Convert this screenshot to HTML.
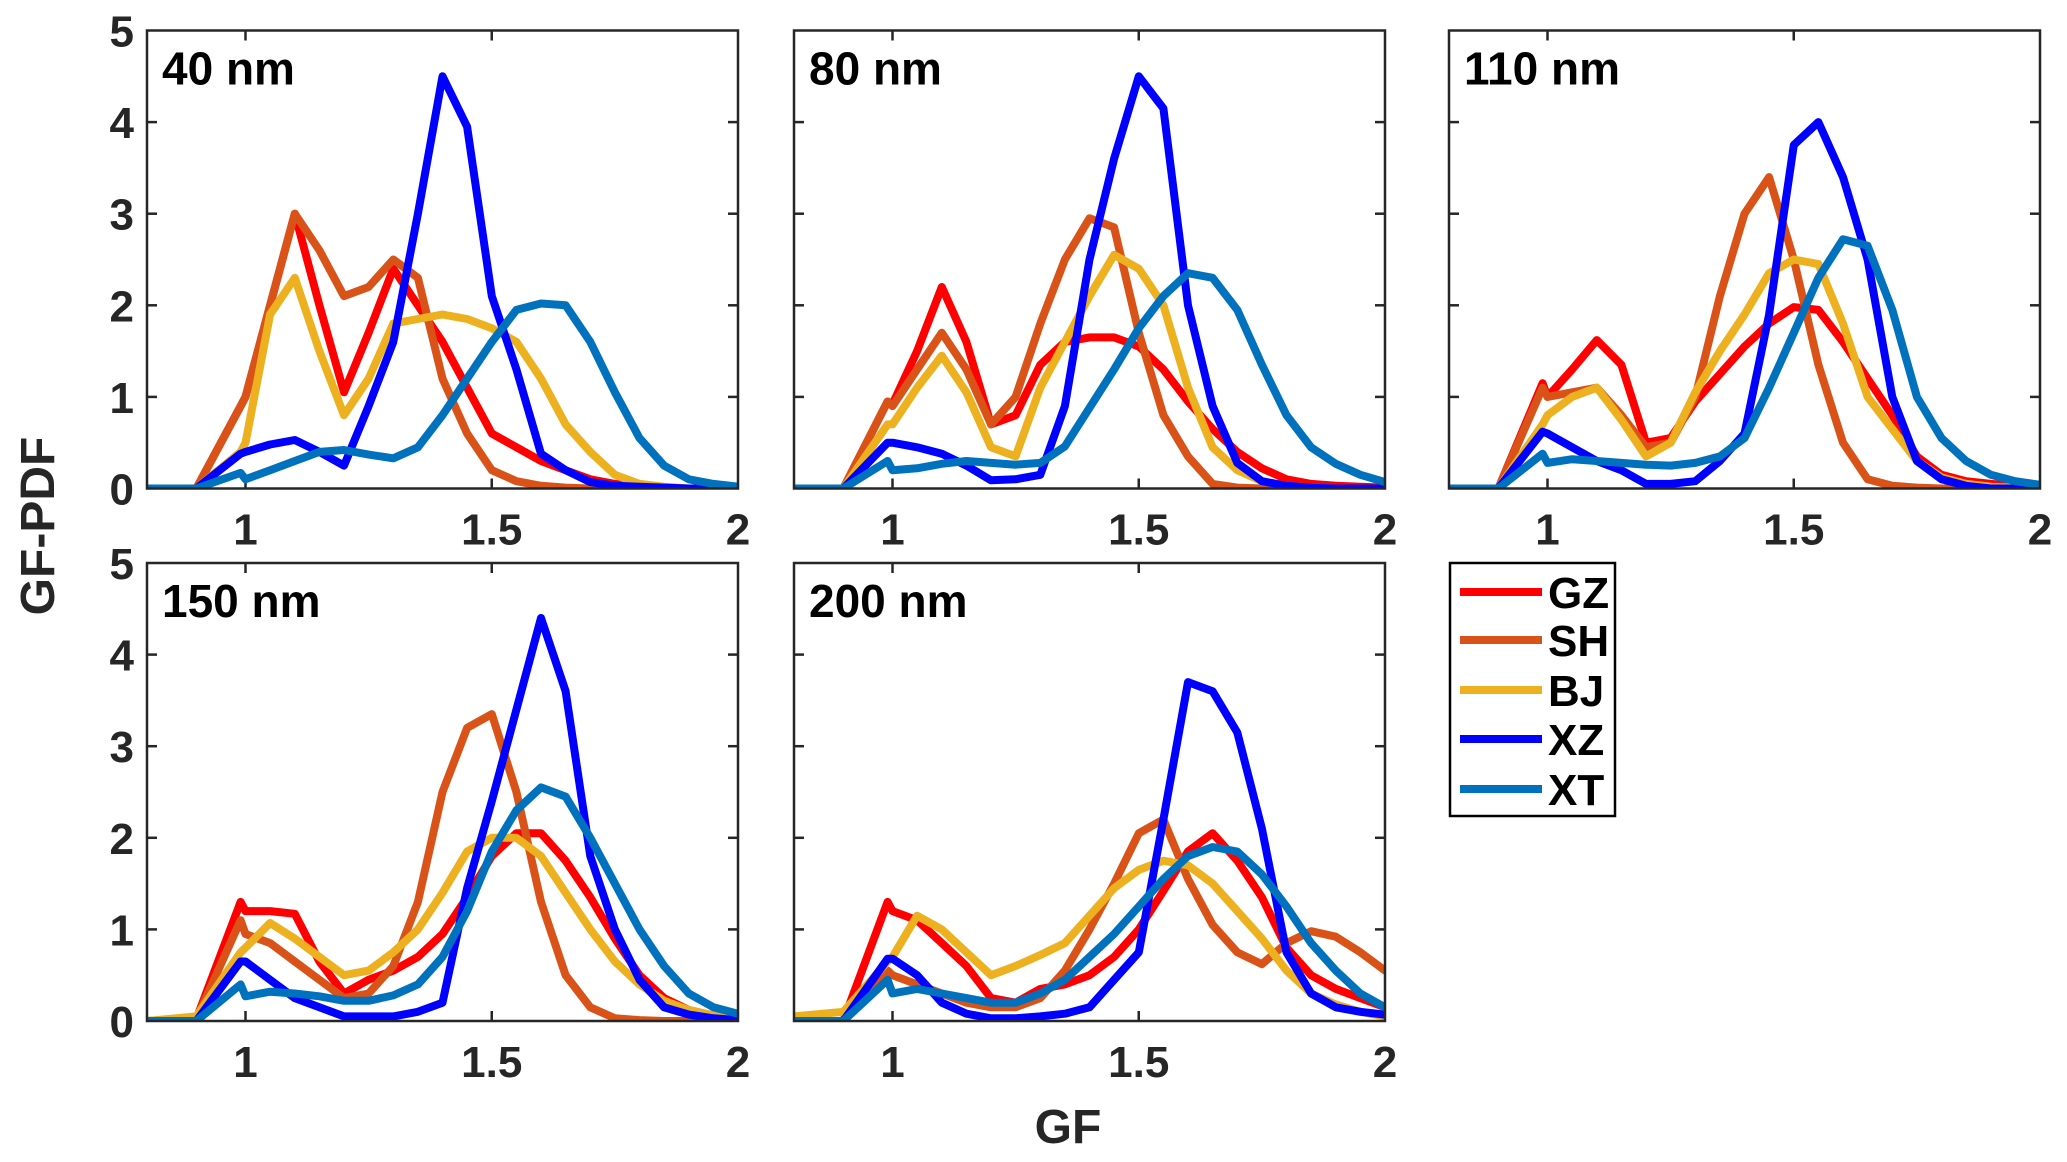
<!DOCTYPE html>
<html><head><meta charset="utf-8"><style>
body{margin:0;background:#fff;}
svg{display:block;font-family:"Liberation Sans",Arial,sans-serif;font-weight:bold;}
</style></head><body>
<svg id="chart" width="2067" height="1162" viewBox="0 0 2067 1162" xmlns="http://www.w3.org/2000/svg">
<rect width="2067" height="1162" fill="#fff"/>
<text x="0" y="0" font-size="48" text-anchor="middle" fill="#262626" transform="translate(54,526) rotate(-90)">GF-PDF</text>
<text x="1068" y="1143" font-size="48" text-anchor="middle" fill="#262626">GF</text>
<g id="legend">
<rect x="1450" y="563" width="165" height="253" fill="#fff" stroke="#000" stroke-width="2.5"/>
</g>
</svg>
<script>
const xs = [0.8,0.9,0.99,1.0,1.05,1.1,1.15,1.2,1.25,1.3,1.35,1.4,1.45,1.5,1.55,1.6,1.65,1.7,1.75,1.8,1.85,1.9,1.95,2.0];
const seriesNames = ["GZ","SH","BJ","XZ","XT"];
const seriesColors = ["#ff0000","#d95319","#edb120","#0000ff","#0072bd"];
const panelLabels = ["40 nm","80 nm","110 nm","150 nm","200 nm"];
const xTicks = [1,1.5,2];
const xTickLabels = ["1","1.5","2"];
const yTicks = [0,1,2,3,4,5];
const yTickLabels = ["0","1","2","3","4","5"];

const GZ40 = [0,0,0.9,1.0,2.0,3.0,2.0,1.05,1.7,2.4,2.0,1.6,1.1,0.6,0.45,0.3,0.2,0.1,0.05,0.02,0,0,0,0];
const SH40 = [0,0,0.9,1.0,2.0,3.0,2.6,2.1,2.2,2.5,2.3,1.2,0.6,0.2,0.08,0.03,0.01,0,0,0,0,0,0,0];
const BJ40 = [0,0,0.4,0.5,1.9,2.3,1.5,0.8,1.2,1.8,1.85,1.9,1.85,1.75,1.6,1.2,0.7,0.4,0.15,0.05,0.02,0,0,0];
const XZ40 = [0,0,0.38,0.4,0.48,0.53,0.4,0.25,0.9,1.6,3.0,4.5,3.95,2.1,1.3,0.38,0.2,0.07,0.03,0.02,0.01,0,0,0];
const XT40 = [0,0,0.17,0.1,0.2,0.3,0.4,0.42,0.37,0.33,0.45,0.8,1.2,1.6,1.95,2.02,2.0,1.6,1.05,0.55,0.25,0.1,0.05,0.02];

const GZ80 = [0,0,0.95,0.92,1.5,2.2,1.6,0.7,0.8,1.35,1.6,1.65,1.65,1.55,1.3,0.95,0.65,0.4,0.22,0.1,0.05,0.03,0.02,0.01];
const SH80 = [0,0,0.95,0.9,1.3,1.7,1.3,0.7,1.0,1.8,2.5,2.95,2.85,1.7,0.8,0.35,0.05,0.01,0,0,0,0,0,0];
const BJ80 = [0,0,0.7,0.7,1.1,1.45,1.05,0.45,0.35,1.1,1.6,2.1,2.55,2.4,2.0,1.1,0.45,0.2,0.08,0.03,0.01,0,0,0];
const XZ80 = [0,0,0.5,0.5,0.45,0.38,0.25,0.09,0.1,0.15,0.9,2.5,3.6,4.5,4.15,2.0,0.9,0.28,0.08,0.03,0.01,0,0,0];
const XT80 = [0,0,0.3,0.2,0.22,0.27,0.3,0.28,0.26,0.28,0.46,0.88,1.3,1.75,2.1,2.35,2.3,1.95,1.35,0.8,0.45,0.27,0.15,0.07];

const GZ110 = [0,0,1.15,1.0,1.3,1.62,1.35,0.5,0.55,0.95,1.25,1.55,1.8,1.98,1.95,1.6,1.2,0.8,0.35,0.15,0.08,0.05,0.03,0.02];
const SH110 = [0,0,1.1,1.0,1.05,1.1,0.8,0.45,0.5,1.0,2.1,3.0,3.4,2.5,1.35,0.5,0.1,0.03,0.01,0,0,0,0,0];
const BJ110 = [0,0,0.7,0.8,1.0,1.1,0.75,0.35,0.5,1.05,1.5,1.9,2.35,2.5,2.45,1.8,1.0,0.65,0.3,0.12,0.05,0.02,0.01,0];
const XZ110 = [0,0,0.62,0.6,0.45,0.3,0.2,0.05,0.05,0.08,0.3,0.6,1.9,3.75,4.0,3.4,2.5,1.0,0.3,0.1,0.03,0,0,0];
const XT110 = [0,0,0.38,0.28,0.32,0.3,0.28,0.26,0.25,0.28,0.35,0.55,1.1,1.7,2.3,2.72,2.65,1.95,1.0,0.55,0.3,0.15,0.08,0.04];

const GZ150 = [0,0.02,1.3,1.2,1.2,1.17,0.65,0.3,0.45,0.55,0.7,0.95,1.35,1.8,2.05,2.05,1.75,1.35,0.9,0.5,0.25,0.12,0.06,0.03];
const SH150 = [0,0.02,1.1,0.95,0.85,0.65,0.45,0.25,0.3,0.6,1.3,2.5,3.2,3.35,2.5,1.3,0.5,0.15,0.03,0.01,0,0,0,0];
const BJ150 = [0,0.05,0.75,0.8,1.07,0.9,0.7,0.5,0.55,0.75,1.0,1.4,1.85,2.0,2.0,1.8,1.4,1.0,0.65,0.4,0.22,0.12,0.06,0.03];
const XZ150 = [0,0,0.65,0.65,0.45,0.25,0.15,0.05,0.05,0.05,0.1,0.2,1.45,2.4,3.4,4.4,3.6,1.8,1.0,0.45,0.15,0.07,0.03,0.01];
const XT150 = [0,0,0.4,0.27,0.32,0.3,0.27,0.22,0.22,0.28,0.4,0.7,1.2,1.85,2.3,2.55,2.45,2.0,1.5,1.0,0.6,0.3,0.15,0.08];

const GZ200 = [0,0,1.3,1.2,1.1,0.85,0.6,0.25,0.2,0.35,0.4,0.5,0.7,1.0,1.42,1.85,2.05,1.75,1.35,0.8,0.5,0.35,0.25,0.15];
const SH200 = [0,0,0.55,0.5,0.4,0.3,0.2,0.15,0.15,0.25,0.55,1.0,1.5,2.05,2.2,1.55,1.05,0.75,0.62,0.85,0.98,0.92,0.75,0.55];
const BJ200 = [0.05,0.1,0.65,0.7,1.15,1.0,0.75,0.5,0.6,0.72,0.85,1.15,1.45,1.65,1.75,1.7,1.5,1.2,0.9,0.55,0.3,0.18,0.1,0.05];
const XZ200 = [0,0,0.68,0.68,0.5,0.2,0.08,0.03,0.03,0.05,0.08,0.15,0.45,0.75,2.2,3.7,3.6,3.15,2.1,0.75,0.3,0.15,0.1,0.07];
const XT200 = [0,0,0.45,0.3,0.35,0.3,0.25,0.2,0.2,0.3,0.45,0.7,0.95,1.25,1.55,1.8,1.9,1.85,1.6,1.25,0.85,0.55,0.3,0.15];

const panelData = [
  [GZ40,SH40,BJ40,XZ40,XT40],
  [GZ80,SH80,BJ80,XZ80,XT80],
  [GZ110,SH110,BJ110,XZ110,XT110],
  [GZ150,SH150,BJ150,XZ150,XT150],
  [GZ200,SH200,BJ200,XZ200,XT200]
];

const NS = "http://www.w3.org/2000/svg";
const svg = document.getElementById('chart');
const PW = 591, PH = 458;
const layout = [[147,30.5],[794,30.5],[1449,30.5],[147,563],[794,563]];
const XMIN = 0.8, XMAX = 2.0, YMAX = 5;
function mk(tag, attrs, parent){ const e=document.createElementNS(NS,tag); for(const k in attrs) e.setAttribute(k,attrs[k]); (parent||svg).appendChild(e); return e; }

layout.forEach(function(pos, p){
  const L = pos[0], T = pos[1];
  const xScale = function(x){ return L + (x - XMIN) / (XMAX - XMIN) * PW; };
  const yScale = function(v){ return T + PH - v / YMAX * PH; };
  const g = mk('g', {});
  
  
  const cp = mk('clipPath', {id:'clip'+p}, g);
  mk('rect', {x:L, y:T, width:PW, height:PH}, cp);
  xTicks.forEach(function(t, i){
    const x = xScale(t);
    if (t < XMAX) {
      mk('line', {x1:x, y1:T+PH, x2:x, y2:T+PH-10, stroke:'#262626', 'stroke-width':2.5}, g);
      mk('line', {x1:x, y1:T, x2:x, y2:T+10, stroke:'#262626', 'stroke-width':2.5}, g);
    }
    const tl = mk('text', {x:x, y:T+PH+56, 'font-size':44, 'text-anchor':'middle', fill:'#262626'}, g);
    
    
    tl.textContent = xTickLabels[i];
  });
  yTicks.forEach(function(t, i){
    const y = yScale(t);
    if (t > 0 && t < YMAX) {
      mk('line', {x1:L, y1:y, x2:L+10, y2:y, stroke:'#262626', 'stroke-width':2.5}, g);
      mk('line', {x1:L+PW, y1:y, x2:L+PW-10, y2:y, stroke:'#262626', 'stroke-width':2.5}, g);
    }
    if (p === 0 || p === 3) {
      const tl = mk('text', {x:L-13, y:y+16, 'font-size':44, 'text-anchor':'end', fill:'#262626'}, g);
      
      
      tl.textContent = yTickLabels[i];
    }
  });
  const lg = mk('g', {'clip-path':'url(#clip'+p+')'}, g);
  panelData[p].forEach(function(vals, s){
    let d = '';
    vals.forEach(function(v, i){ d += (i ? 'L' : 'M') + xScale(xs[i]).toFixed(1) + ',' + yScale(v).toFixed(1); });
    const path = mk('path', {d:d, fill:'none', stroke:seriesColors[s], 'stroke-width':8, 'stroke-linejoin':'round', 'stroke-linecap':'round'}, lg);
    
    
  });
  mk('rect', {x:L, y:T, width:PW, height:PH, fill:'none', stroke:'#262626', 'stroke-width':2.5}, g);
  const lab = mk('text', {x:L+15, y:T+54, 'font-size':46, fill:'#000'}, g);
  
  
  lab.textContent = panelLabels[p];
});

const legend = document.getElementById('legend');
const legendY = [592, 640, 690, 739, 789];
seriesNames.forEach(function(n, s){
  const e = mk('g', {}, legend);
  
  
  mk('line', {x1:1460, y1:legendY[s], x2:1542, y2:legendY[s], stroke:seriesColors[s], 'stroke-width':8}, e);
  const t = mk('text', {x:1548, y:legendY[s]+16, 'font-size':44, fill:'#000'}, e);
  t.textContent = n;
});
</script>
</body></html>
